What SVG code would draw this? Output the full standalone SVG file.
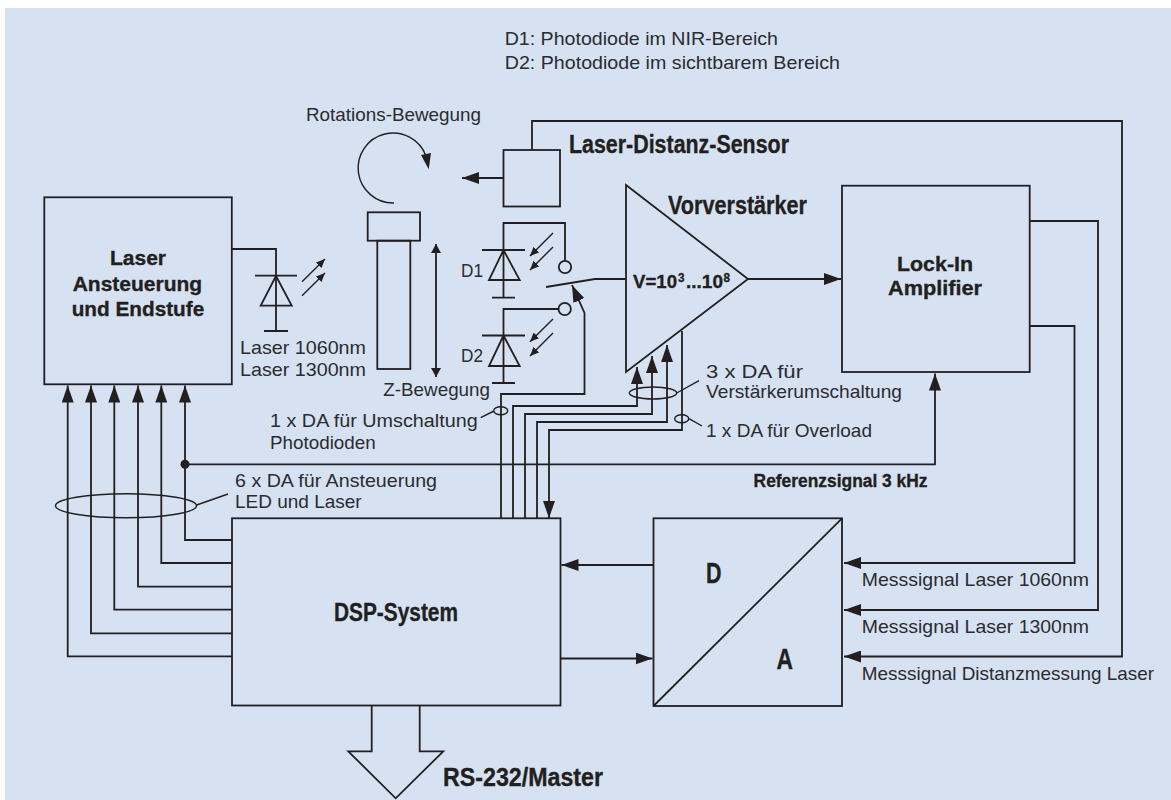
<svg xmlns="http://www.w3.org/2000/svg" width="1171" height="800" viewBox="0 0 1171 800">
<style>
.l{fill:none;stroke:#231f20;stroke-width:1.8;stroke-linejoin:miter}
.n{stroke-width:1.4}
.h{fill:#231f20;stroke:none}
text{font-family:"Liberation Sans",Arial,sans-serif;fill:#2b2b30;font-size:19px}
.b{font-family:"Liberation Sans Narrow","Liberation Sans",Arial,sans-serif;font-weight:700;fill:#231f20;stroke:#231f20;stroke-width:.35;font-size:25px}
.c{font-size:21px}
.v{font-size:19px}
.u{font-size:12px}
</style>
<defs>
<marker id="a" markerUnits="userSpaceOnUse" markerWidth="18" markerHeight="12" refX="17" refY="6" orient="auto"><path d="M0 0L17 6L0 12Z" fill="#231f20"/></marker>
<marker id="m" markerUnits="userSpaceOnUse" markerWidth="10" markerHeight="8" refX="9" refY="4" orient="auto"><path d="M0 0L9 4L0 8Z" fill="#231f20"/></marker>
<marker id="z" markerUnits="userSpaceOnUse" markerWidth="10" markerHeight="10" refX="9" refY="5" orient="auto-start-reverse"><path d="M0 0L9 5L0 10Z" fill="#231f20"/></marker>
</defs>
<rect x="5" y="8" width="1166" height="792" fill="#d6e2f2"/>

<g id="connectors">
<path class="l" d="M232 249H276V331"/>
<path class="l" d="M532 150V121H1122V656.500H844" marker-end="url(#a)"/>
<path class="l" d="M503 178H462" marker-end="url(#a)"/>
<path class="l" d="M436 244V377" marker-start="url(#z)" marker-end="url(#z)"/>
<path class="l" d="M748 279H841" marker-end="url(#a)"/>
<path class="l" d="M1030 221H1098V610H844" marker-end="url(#a)"/>
<path class="l" d="M1030 326H1074.500V563H844" marker-end="url(#a)"/>
<path class="l" d="M546 287L595 279H626"/>
<path class="l" d="M501 518V394H584.500V313L572 285" marker-end="url(#a)"/>
<path class="l" d="M513 518V406H637V367" marker-end="url(#a)"/>
<path class="l" d="M525 518V414H652V356" marker-end="url(#a)"/>
<path class="l" d="M537 518V422H667V345" marker-end="url(#a)"/>
<path class="l" d="M682 331V430H549V518" marker-end="url(#a)"/>
<path class="l" d="M232 656.300H67.700V385.500" marker-end="url(#a)"/>
<path class="l" d="M232 633.300H91V385.500" marker-end="url(#a)"/>
<path class="l" d="M232 609.700H114.300V385.500" marker-end="url(#a)"/>
<path class="l" d="M232 586.700H138V385.500" marker-end="url(#a)"/>
<path class="l" d="M232 563H161.300V385.500" marker-end="url(#a)"/>
<path class="l" d="M232 540H185V385.500" marker-end="url(#a)"/>
<path class="l" d="M185 464.300H935V373.500" marker-end="url(#a)"/>
<circle cx="185" cy="464.300" r="4.500" fill="#231f20"/>
<path class="l" d="M653 565H561.500" marker-end="url(#a)"/>
<path class="l" d="M561 658.500H652.500" marker-end="url(#a)"/>
<ellipse class="l n" cx="126" cy="505.700" rx="70.500" ry="12"/>
<path class="l n" d="M196.700 505L228 494"/>
<ellipse class="l n" cx="500.700" cy="410.700" rx="7" ry="4"/>
<path class="l n" d="M480.700 417.700L494 411"/>
<ellipse class="l n" cx="653" cy="393" rx="23.700" ry="6"/>
<path class="l n" d="M676.700 393L699 380.700"/>
<ellipse class="l n" cx="681.700" cy="418.700" rx="7" ry="4"/>
<path class="l n" d="M689 418.700L702 426"/>
<path class="l n" d="M394 203A35 35 0 1 1 426 156"/>
<path class="h" d="M428.700 169.300L421 155L431 153Z"/>
</g>

<g id="laser-ansteuerung">
<rect class="l" x="44.300" y="197.300" width="187.500" height="187"/>
<text class="b c" x="110" y="265" textLength="56" lengthAdjust="spacingAndGlyphs">Laser</text>
<text class="b c" x="72.700" y="290.700" textLength="129.500" lengthAdjust="spacingAndGlyphs">Ansteuerung</text>
<text class="b c" x="71.700" y="315.700" textLength="132.500" lengthAdjust="spacingAndGlyphs">und Endstufe</text>
</g>

<g id="laser-diode">
<path class="l" d="M255 275.700H297M276 276L260.700 305.700H291.700ZM264 331H288"/>
<path class="l n" d="M302 281.700L325 259" marker-end="url(#m)"/>
<path class="l n" d="M302 295.700L325 273" marker-end="url(#m)"/>
<text x="240" y="354" textLength="126" lengthAdjust="spacingAndGlyphs">Laser 1060nm</text>
<text x="240" y="375.600" textLength="126" lengthAdjust="spacingAndGlyphs">Laser 1300nm</text>
</g>

<g id="probe">
<rect class="l" x="367.700" y="212.300" width="52.300" height="28.400"/>
<rect class="l" x="377.300" y="240.700" width="33" height="128.300"/>
<text x="306" y="120.700" textLength="175" lengthAdjust="spacingAndGlyphs">Rotations-Bewegung</text>
<text x="383.300" y="396" textLength="106.700" lengthAdjust="spacingAndGlyphs">Z-Bewegung</text>
</g>

<g id="sensor">
<rect class="l" x="503.500" y="150" width="56.500" height="56.500"/>
<text class="b" x="569" y="153" textLength="220" lengthAdjust="spacingAndGlyphs">Laser-Distanz-Sensor</text>
</g>

<g id="d1">
<path class="l" d="M565 261V223H503.500V297.700M482 250H525M503.500 250L489 280H519.700ZM492 297.700H515"/>
<path class="l n" d="M553 233L530 256" marker-end="url(#m)"/>
<path class="l n" d="M553 247L530 270" marker-end="url(#m)"/>
<circle class="l" cx="565" cy="267" r="6.200"/>
<text x="461" y="276.700" textLength="22" lengthAdjust="spacingAndGlyphs">D1</text>
</g>

<g id="d2">
<path class="l" d="M558.500 309H503.500V383M482 335.500H525M503.500 335.500L489 366H519.700ZM492 383H515"/>
<path class="l n" d="M553 319L530 341.700" marker-end="url(#m)"/>
<path class="l n" d="M553 333L530 356" marker-end="url(#m)"/>
<circle class="l" cx="564.700" cy="309" r="6.200"/>
<text x="461" y="361.700" textLength="22" lengthAdjust="spacingAndGlyphs">D2</text>
</g>

<g id="vorverstaerker">
<path class="l" d="M626 185L748 279L626 372Z"/>
<text class="b" x="668" y="214" textLength="139" lengthAdjust="spacingAndGlyphs">Vorverstärker</text>
<text class="b v" x="633" y="287.700" textLength="44" lengthAdjust="spacingAndGlyphs">V=10</text>
<text class="b u" x="678" y="281.500" textLength="6.500" lengthAdjust="spacingAndGlyphs">3</text>
<text class="b v" x="686" y="287.700" textLength="37" lengthAdjust="spacingAndGlyphs">...10</text>
<text class="b u" x="723.500" y="281.500" textLength="6.500" lengthAdjust="spacingAndGlyphs">8</text>
</g>

<g id="lock-in">
<rect class="l" x="842" y="185.700" width="187.700" height="186.300"/>
<text class="b c" x="897" y="271" textLength="76" lengthAdjust="spacingAndGlyphs">Lock-In</text>
<text class="b c" x="888" y="295.300" textLength="94" lengthAdjust="spacingAndGlyphs">Amplifier</text>
</g>

<g id="dsp">
<rect class="l" x="232" y="518.300" width="328.500" height="187.200"/>
<text class="b" x="334" y="620.700" textLength="124" lengthAdjust="spacingAndGlyphs">DSP-System</text>
</g>

<g id="da">
<rect class="l" x="653.500" y="518.300" width="188.500" height="187.700"/>
<path class="l" d="M653.500 706L842 518.300"/>
<text class="b" x="706" y="582.700" style="font-size:30px" textLength="15.500" lengthAdjust="spacingAndGlyphs">D</text>
<text class="b" x="776.500" y="668.700" style="font-size:30px" textLength="16.500" lengthAdjust="spacingAndGlyphs">A</text>
</g>

<g id="rs232">
<path class="l" d="M371.700 705.500V751.300H348.300L395.700 798.300L443.300 751.300H419.700V705.500"/>
<text class="b" x="443" y="786" textLength="160" lengthAdjust="spacingAndGlyphs">RS-232/Master</text>
</g>

<g id="labels">
<text x="504.700" y="45" textLength="273.300" lengthAdjust="spacingAndGlyphs">D1: Photodiode im NIR-Bereich</text>
<text x="504.700" y="69" textLength="335.300" lengthAdjust="spacingAndGlyphs">D2: Photodiode im sichtbarem Bereich</text>
<text x="270" y="426.700" textLength="207.700" lengthAdjust="spacingAndGlyphs">1 x DA für Umschaltung</text>
<text x="270" y="448.700" textLength="105.700" lengthAdjust="spacingAndGlyphs">Photodioden</text>
<text x="235" y="487.300" textLength="202" lengthAdjust="spacingAndGlyphs">6 x DA für Ansteuerung</text>
<text x="235" y="508.300" textLength="126.700" lengthAdjust="spacingAndGlyphs">LED und Laser</text>
<text x="706" y="378" textLength="97" lengthAdjust="spacingAndGlyphs">3 x DA für</text>
<text x="706" y="398" textLength="196" lengthAdjust="spacingAndGlyphs">Verstärkerumschaltung</text>
<text x="706" y="436.700" textLength="166" lengthAdjust="spacingAndGlyphs">1 x DA für Overload</text>
<text class="b" x="753.600" y="487.300" style="font-size:18px" textLength="173.900" lengthAdjust="spacingAndGlyphs">Referenzsignal 3 kHz</text>
<text x="861.800" y="586" textLength="227.200" lengthAdjust="spacingAndGlyphs">Messsignal Laser 1060nm</text>
<text x="861.800" y="633" textLength="227.200" lengthAdjust="spacingAndGlyphs">Messsignal Laser 1300nm</text>
<text x="861.800" y="680" textLength="292.200" lengthAdjust="spacingAndGlyphs">Messsignal Distanzmessung Laser</text>
</g>
</svg>
